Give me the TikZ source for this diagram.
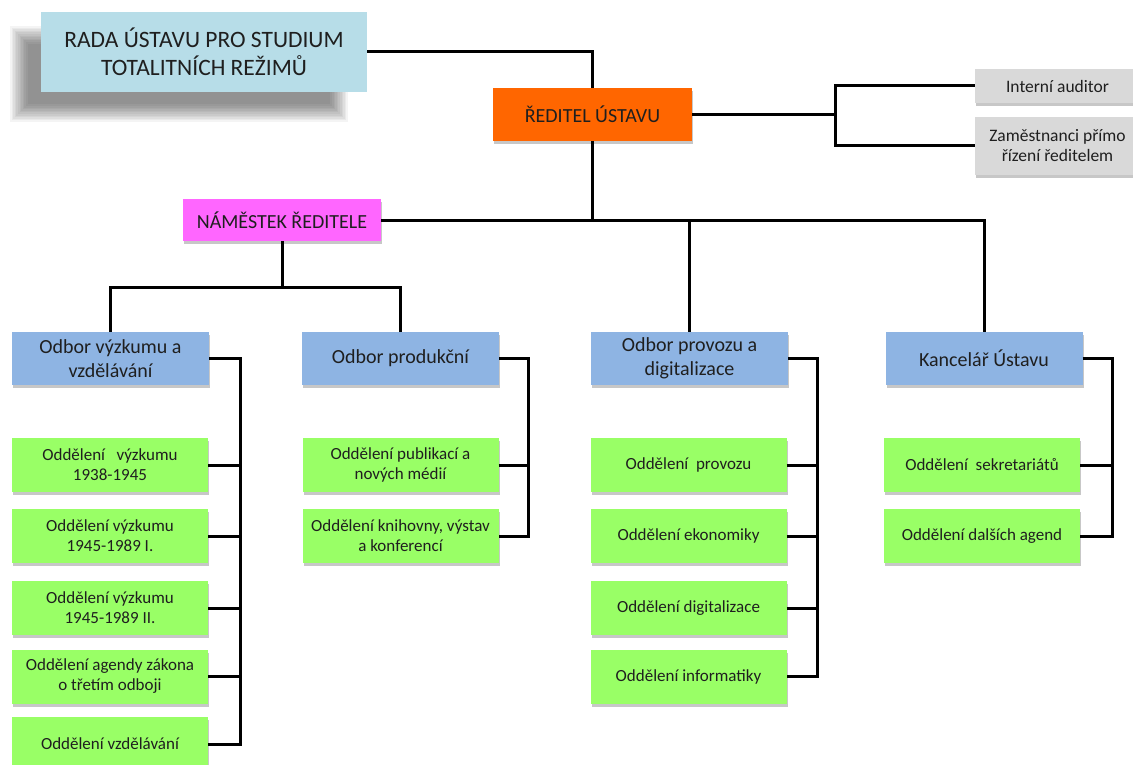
\documentclass[tikz,border=0pt]{standalone}
\usepackage{fontspec}
\setmainfont{Carlito}
\usetikzlibrary{shadows}
\definecolor{radac}{HTML}{B7DDE8}
\definecolor{dirc}{HTML}{FF6600}
\definecolor{depc}{HTML}{FF66FF}
\definecolor{odbc}{HTML}{8EB4E3}
\definecolor{grc}{HTML}{99FF66}
\definecolor{grayc}{HTML}{D9D9D9}
\definecolor{txt}{HTML}{1F1F1F}
\tikzset{
  box/.style={inner sep=0pt, align=center, text=txt,
    drop shadow={shadow xshift=1pt, shadow yshift=-3pt, fill=black, opacity=0.22}},
  odbbox/.style={box, fill=odbc, minimum width=197pt, minimum height=53pt, font=\fontsize{20}{24}\selectfont},
  oddbox/.style={box, fill=grc, minimum width=196pt, minimum height=54pt, font=\fontsize{17}{20}\selectfont},
  graybox/.style={box, fill=grayc, minimum width=165pt, font=\fontsize{17.5}{20}\selectfont},
  conn/.style={line width=3pt, draw=black}
}
\begin{document}
\begin{tikzpicture}[x=1pt,y=-1pt]
\useasboundingbox (0,0) rectangle (1133,765);
\fill[white] (0,0) rectangle (1133,765);
% soft shadow of the council box
\foreach \i in {0,...,11} {
  \fill[black, opacity=0.045] (10+\i*1.6,26+\i*1.6) rectangle (348-\i*1.6,122-\i*1.6);
}
\node[inner sep=0pt, align=center, text=txt, fill=radac, minimum width=326pt, minimum height=80pt,
  font=\fontsize{23.5}{28}\selectfont] (rada) at (204,52) {RADA ÚSTAVU PRO STUDIUM\\TOTALITNÍCH REŽIMŮ};
\node[box, fill=dirc, minimum width=199pt, minimum height=53pt, font=\fontsize{20}{24}\selectfont] (reditel) at (592.5,114.5) {ŘEDITEL ÚSTAVU};
\node[graybox, minimum height=34pt] (ia) at (1057.5,86) {Interní auditor};
\node[graybox, minimum height=58pt] (zam) at (1057.5,146) {Zaměstnanci přímo\\řízení ředitelem};
\node[box, fill=depc, minimum width=198pt, minimum height=42pt, font=\fontsize{20}{24}\selectfont] (namestek) at (282,220) {NÁMĚSTEK ŘEDITELE};

\node[odbbox] (vyz) at (110.5,358.5) {Odbor výzkumu a\\vzdělávání};
\node[odbbox] (prod) at (400.5,358.5) {Odbor produkční};
\node[odbbox] (prov) at (689.5,358.5) {Odbor provozu a\\digitalizace};
\node[odbbox] (kanc) at (984,358.5) {Kancelář Ústavu};

\node[oddbox] (v1) at (110,465) {Oddělení \ \ výzkumu\\1938-1945};
\node[oddbox] (v2) at (110,536) {Oddělení výzkumu\\1945-1989 I.};
\node[oddbox] (v3) at (110,608) {Oddělení výzkumu\\1945-1989 II.};
\node[oddbox] (v4) at (110,676.5) {Oddělení agendy zákona\\o třetím odboji};
\node[oddbox] (v5) at (110,744) {Oddělení vzdělávání};

\node[oddbox] (p1) at (400.5,465) {Oddělení publikací a\\nových médií};
\node[oddbox] (p2) at (400.5,536) {Oddělení knihovny, výstav\\a konferencí};

\node[oddbox] (r1) at (688.5,465) {Oddělení \ provozu};
\node[oddbox] (r2) at (688.5,536) {Oddělení ekonomiky};
\node[oddbox] (r3) at (688.5,608) {Oddělení digitalizace};
\node[oddbox] (r4) at (688.5,676.5) {Oddělení informatiky};

\node[oddbox] (k1) at (982,465) {Oddělení \ sekretariátů};
\node[oddbox] (k2) at (982,536) {Oddělení dalších agend};

% top connectors
\draw[conn] (rada.east) -| (reditel.north);
\coordinate (jr) at (835,114.5);
\draw[conn] (reditel.east) -- (jr);
\draw[conn] (ia.west) -| (jr) |- (zam.west);
\coordinate (bus) at (592.5,220);
\draw[conn] (reditel.south) -- (bus);
\draw[conn] (namestek.east) -| (kanc.north);
\draw[conn] (prov.north) -- (prov.north |- bus);
\coordinate (dj) at (282,287);
\draw[conn] (namestek.south) -- (dj);
\draw[conn] (vyz.north) |- (dj) -| (prod.north);

% brackets
\draw[conn] (vyz.east) -- ++(31,0) coordinate (b1) |- (v5.east);
\foreach \c in {v1,v2,v3,v4} { \draw[conn] (\c.east) -- (\c.east -| b1); }
\draw[conn] (prod.east) -- ++(29,0) coordinate (b2) |- (p2.east);
\draw[conn] (p1.east) -- (p1.east -| b2);
\draw[conn] (prov.east) -- ++(29,0) coordinate (b3) |- (r4.east);
\foreach \c in {r1,r2,r3} { \draw[conn] (\c.east) -- (\c.east -| b3); }
\draw[conn] (kanc.east) -- ++(30,0) coordinate (b4) |- (k2.east);
\draw[conn] (k1.east) -- (k1.east -| b4);
\end{tikzpicture}
\end{document}
